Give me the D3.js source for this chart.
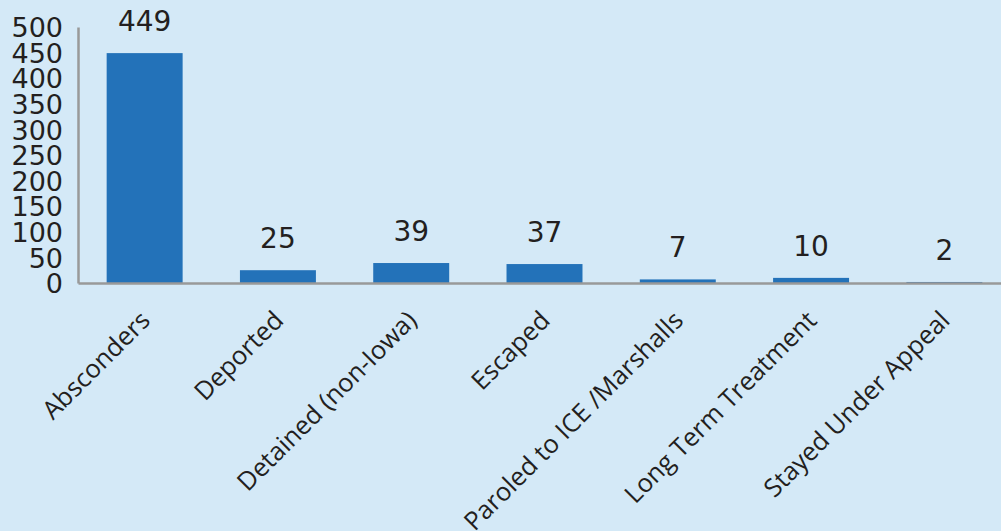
<!DOCTYPE html>
<html><head><meta charset="utf-8">
<script src="https://cdn.jsdelivr.net/npm/d3@7"></script>
<style>
html,body{margin:0;padding:0;background:#d4e9f7;}
svg{display:block;}
</style></head><body>
<svg id="c" width="1001" height="531"></svg>
<script>
const categories = ["Absconders","Deported","Detained (non-Iowa)","Escaped","Paroled to ICE /Marshalls","Long Term Treatment","Stayed Under Appeal"];
const values = [449,25,39,37,7,10,2];
const yTicks = [0,50,100,150,200,250,300,350,400,450,500];

const svg = d3.select("#c");
svg.append("rect").attr("width",1001).attr("height",531).attr("fill","#d4e9f7");
const x = d3.scaleBand().domain(categories).range([78,1011]).paddingInner(0.43).paddingOuter(0.215);
const y = d3.scaleLinear().domain([0,500]).range([283,27]);

const numFont = "DejaVu Sans, sans-serif";
// y axis
const ya = svg.append("g").attr("transform","translate(78,0)").call(d3.axisLeft(y).tickValues(yTicks).tickSize(0).tickPadding(10));
ya.select(".domain").attr("stroke","#999").attr("stroke-width",2.5);
ya.selectAll("text").attr("font-family",numFont).attr("font-size",27).attr("fill","#231f20").attr("dy","0.36em").attr("x",-15);

// bars
svg.selectAll("rect.bar").data(values).join("rect").attr("class","bar")
  .attr("x",(d,i)=>x(categories[i])).attr("width",x.bandwidth())
  .attr("y",d=>y(d)).attr("height",d=>y(0)-y(d)).attr("fill","#2372b9");

// x axis
const xa = svg.append("g").attr("transform","translate(0,283)").call(d3.axisBottom(x).tickSize(0).tickSizeOuter(0));
xa.select(".domain").attr("stroke","#999").attr("stroke-width",2.5);
xa.selectAll("text")
  .attr("font-family","Open Sans, sans-serif").attr("font-size",25.5).attr("fill","#231f20")
  .attr("text-anchor","end").attr("y",0).attr("dy","0")
  .attr("transform","translate(7,39) rotate(-45)");

// value labels
svg.selectAll("text.val").data(values).join("text").attr("class","val")
  .attr("x",(d,i)=>x(categories[i])+x.bandwidth()/2).attr("y",d=>y(d)-22)
  .attr("text-anchor","middle").attr("font-family",numFont).attr("font-size",28).attr("fill","#231f20")
  .text(d=>d);
</script></body></html>
